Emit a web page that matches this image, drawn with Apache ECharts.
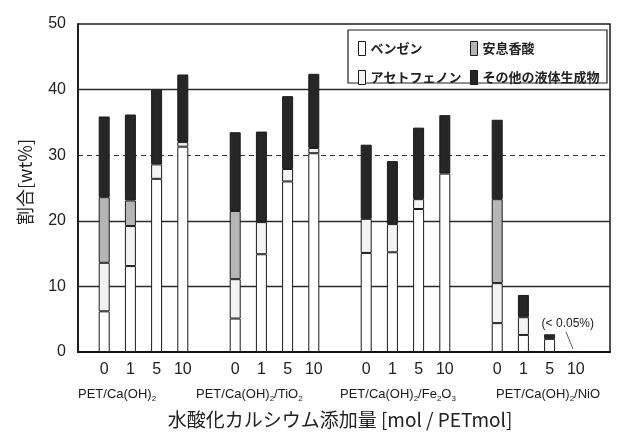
<!DOCTYPE html>
<html>
<head>
<meta charset="utf-8">
<script src="https://cdn.jsdelivr.net/npm/echarts@6/dist/echarts.min.js"></script>
<style>
  html, body { margin: 0; padding: 0; background: #fff; }
  #chart { width: 626px; height: 436px; }
</style>
</head>
<body>
<div id="chart"></div>
<script>
// Ca(OH)2 dose per PET unit, repeated for each catalyst system
const doses = ['0', '1', '5', '10'];
const systems = [
  'PET/Ca(OH){s|2}',
  'PET/Ca(OH){s|2}/TiO{s|2}',
  'PET/Ca(OH){s|2}/Fe{s|2}O{s|3}',
  'PET/Ca(OH){s|2}/NiO'
];

// Liquid product yields [wt%], 4 doses x 4 systems, stacked bottom to top
const benzene      = [6.2, 13.1, 26.4, 31.3,   5.1, 14.9, 26.0, 30.3,   15.1, 15.2, 21.8, 27.2,   4.4, 2.6, 2.0, 0.03];
const acetophenone = [7.4,  6.1,  2.2,  0.7,   6.0,  4.9,  1.9,  0.8,    5.2,  4.3,  1.5,  0,     6.1, 2.7, 0,   0];
const benzoicAcid  = [10.0, 3.9,  0,    0,    10.4,  0,    0,    0,      0,    0,    0,    0,    12.8, 0,   0,   0];
const otherLiquid  = [12.3, 13.1, 11.4, 10.3,  12.0, 13.8, 11.1, 11.3,  11.3,  9.6, 10.9,  8.9,  12.1, 3.4, 0.7, 0];

const seriesNames = ['ベンゼン', 'アセトフェノン', '安息香酸', 'その他の液体生成物'];
const seriesColors = ['#ffffff', '#f3f3f3', '#b5b5b5', '#262626'];
const traceNote = '(< 0.05%)';

// one empty slot before each group and after the last one
const SLOTS = 1 + systems.length * (doses.length + 1);
const slotOf = (g, d) => 1 + g * (doses.length + 1) + d;

const categories = new Array(SLOTS).fill('');
systems.forEach((_, g) => doses.forEach((d, i) => { categories[slotOf(g, i)] = d; }));

function expand(values) {
  const out = new Array(SLOTS).fill(null);
  values.forEach((v, k) => {
    const g = Math.floor(k / doses.length), d = k % doses.length;
    out[slotOf(g, d)] = v === 0 ? null : v;
  });
  return out;
}

const benzeneData = expand(benzene);
// the NiO / 10 mol bar is below detection; annotate it
const traceSlot = slotOf(3, 3);
benzeneData[traceSlot] = {
  value: benzene[15],
  label: {
    show: true, position: 'top', formatter: traceNote,
    fontFamily: 'Liberation Sans', fontSize: 12, color: '#222'
  }
};

const stacks = [benzeneData, expand(acetophenone), expand(benzoicAcid), expand(otherLiquid)];

const chart = echarts.init(document.getElementById('chart'), null, { renderer: 'canvas' });

const PLOT_TOP = 24, PLOT_BOTTOM = 84, PLOT_LEFT = 78;

chart.setOption({
  backgroundColor: '#ffffff',
  animation: false,
  grid: [
    // outer frame with y grid lines
    { left: PLOT_LEFT, right: 16, top: PLOT_TOP, bottom: PLOT_BOTTOM, show: true,
      borderColor: '#1a1a1a', borderWidth: 1.5, containLabel: false },
    // bar area
    { left: PLOT_LEFT, width: 524, top: PLOT_TOP, bottom: PLOT_BOTTOM, containLabel: false }
  ],
  xAxis: [
    { gridIndex: 0, type: 'category', data: [''], axisLabel: { show: false }, axisTick: { show: false },
      axisLine: { show: true, lineStyle: { color: '#111', width: 2 } }, splitLine: { show: false } },
    { gridIndex: 1, type: 'category', data: categories, boundaryGap: false,
      axisLine: { show: false }, axisTick: { show: false }, splitLine: { show: false },
      axisLabel: { interval: 0, margin: 10, fontFamily: 'Liberation Sans', fontSize: 16, color: '#222' },
      name: '水酸化カルシウム添加量 [mol / PETmol]', nameLocation: 'middle', nameGap: 58,
      nameTextStyle: { fontFamily: 'Noto Sans CJK JP', fontSize: 19, color: '#222' } }
  ],
  yAxis: [
    { gridIndex: 0, type: 'value', min: 0, max: 50, interval: 10,
      axisLine: { show: true, lineStyle: { color: '#111', width: 1.5 } },
      axisTick: { show: false },
      axisLabel: { margin: 12, fontFamily: 'Liberation Sans', fontSize: 16, color: '#222' },
      splitLine: { show: true, lineStyle: { width: 1.4,
        color: ['rgba(0,0,0,0)', '#2a2a2a', '#2a2a2a', 'rgba(0,0,0,0)', '#2a2a2a', 'rgba(0,0,0,0)'] } } },
    // dashed reference line at 30 wt%
    { gridIndex: 0, type: 'value', min: 0, max: 50, interval: 30, position: 'left',
      axisLine: { show: false }, axisTick: { show: false }, axisLabel: { show: false },
      splitLine: { show: true, lineStyle: { width: 1.2, type: [5, 4],
        color: ['rgba(0,0,0,0)', '#333', 'rgba(0,0,0,0)'] } } },
    { gridIndex: 1, type: 'value', min: 0, max: 50, show: false, splitLine: { show: false } }
  ],
  legend: [
    { data: [seriesNames[0], seriesNames[1]], orient: 'vertical', left: 353, top: 36, icon: 'rect',
      itemWidth: 7, itemHeight: 14, itemGap: 14, itemStyle: { borderColor: '#1a1a1a', borderWidth: 1 },
      textStyle: { fontFamily: 'Noto Sans CJK JP', fontSize: 13, fontWeight: 'bold', color: '#222' },
      selectedMode: false },
    { data: [seriesNames[2], seriesNames[3]], orient: 'vertical', left: 465, top: 36, icon: 'rect',
      itemWidth: 7, itemHeight: 14, itemGap: 14, itemStyle: { borderColor: '#1a1a1a', borderWidth: 1 },
      textStyle: { fontFamily: 'Noto Sans CJK JP', fontSize: 13, fontWeight: 'bold', color: '#222' },
      selectedMode: false }
  ],
  graphic: [
    // legend frame
    { type: 'rect', z: 3, shape: { x: 348, y: 30, width: 259, height: 53 },
      style: { fill: '#fff', stroke: '#222', lineWidth: 1.2 } },
    // y-axis title
    { type: 'text', z: 5, x: 25, y: 182, rotation: Math.PI / 2,
      style: { text: '割合[wt%]', fill: '#222', font: '18px "Noto Sans CJK JP"', align: 'center', verticalAlign: 'middle' } },
    // leader from the trace note down to the empty bar
    { type: 'line', z: 5, shape: { x1: 566, y1: 332, x2: 573, y2: 349 },
      style: { stroke: '#333', lineWidth: 0.8 } }
  ].concat(systems.map((s, g) => ({
    type: 'text', z: 5,
    x: [78, 196, 340, 496][g], y: 385,
    style: {
      text: s, fill: '#1a1a1a', font: '13px "Liberation Sans"',
      rich: {
        s: { fontSize: 8, fontFamily: 'Liberation Sans', fill: '#1a1a1a', verticalAlign: 'bottom', lineHeight: 18 }
      }
    }
  }))),
  series: stacks.map((data, i) => ({
    name: seriesNames[i],
    type: 'bar',
    stack: 'yield',
    xAxisIndex: 1,
    yAxisIndex: 2,
    barWidth: 11,
    data: data,
    itemStyle: { color: seriesColors[i], borderColor: '#1a1a1a', borderWidth: 1 },
    emphasis: { disabled: true },
    labelLayout: i === 0 ? { dx: -8, dy: -17 } : undefined
  }))
});
</script>
</body>
</html>
